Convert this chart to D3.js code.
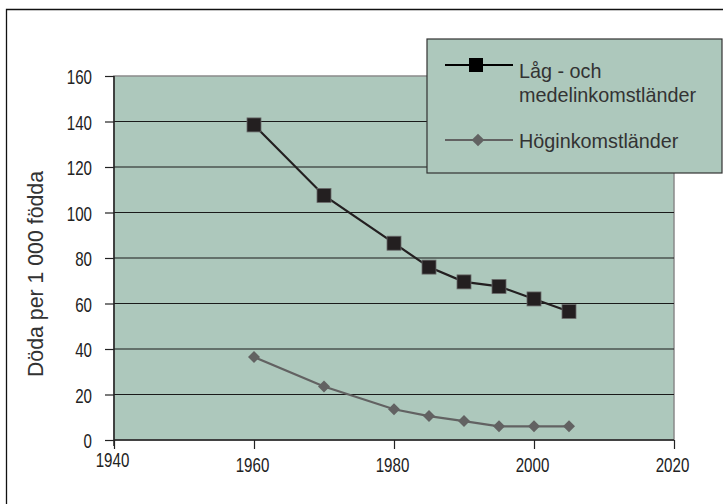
<!DOCTYPE html>
<html><head><meta charset="utf-8">
<script src="https://cdn.jsdelivr.net/npm/d3@7"></script>
<style>body{margin:0;background:#fff}</style>
</head><body>
<svg id="c" width="723" height="504"></svg>
<script>
const years = [1960, 1970, 1980, 1985, 1990, 1995, 2000, 2005];
const lowMid = [138.5, 107.5, 86.5, 76, 69.5, 67.5, 62, 56.5];
const high = [36.5, 23.5, 13.5, 10.5, 8.3, 6, 6, 6];
const seriesNames = ["Låg - och|medelinkomstländer", "Höginkomstländer"];
const xTicks = [1940, 1960, 1980, 2000, 2020];
const yTicks = [0, 20, 40, 60, 80, 100, 120, 140, 160];
const yLabel = "Döda per 1 000 födda";

const svg = d3.select("#c");
const bg = "#adc8bc";
const L = 114, R = 674, T = 76, B = 440;
const x = d3.scaleLinear().domain([1940, 2020]).range([L, R]);
const y = d3.scaleLinear().domain([0, 160]).range([B, T]);
const sans = "'Liberation Sans', Arial, sans-serif";
const SX = 0.72;

// outer frame (top and left edges visible)
svg.append("path").attr("d", "M6.5,504V9.5H723").attr("fill", "none")
  .attr("stroke", "#111").attr("stroke-width", 1.3);

// plot area
svg.append("rect").attr("x", L).attr("y", T).attr("width", R - L).attr("height", B - T)
  .attr("fill", bg).attr("stroke", "#8a8a8a").attr("stroke-width", 1.5);

// grid lines
svg.append("g").selectAll("line").data(yTicks.filter(d => d > 0 && d < 160)).join("line")
  .attr("x1", L).attr("x2", R).attr("y1", d => y(d)).attr("y2", d => y(d))
  .attr("stroke", "#1a1a1a").attr("stroke-width", 1.2);

// axes
const yAxis = d3.axisLeft(y).tickValues(yTicks).tickSize(9).tickPadding(13).tickFormat(d3.format("d"));
const gy = svg.append("g").attr("transform", `translate(${L},0)`).call(yAxis);
const xAxis = d3.axisBottom(x).tickValues(xTicks).tickSize(9).tickPadding(14).tickFormat(d3.format("d"));
const gx = svg.append("g").attr("transform", `translate(0,${B})`).call(xAxis);
[gx, gy].forEach(g => {
  g.select(".domain").attr("stroke", "#222").attr("stroke-width", 1.5);
  g.selectAll(".tick line").attr("stroke", "#222").attr("stroke-width", 1.2);
  g.selectAll(".tick text").attr("font-family", sans).attr("font-size", 21).attr("fill", "#222");
});
gx.select(".domain").attr("d", `M${L},0H${R}`);
gy.select(".domain").attr("d", `M0,${T}V${B + 6}`);
gy.selectAll(".tick text").attr("x", -22 / SX).attr("transform", `scale(${SX},1)`).attr("dy", "0.36em");
gx.selectAll(".tick text")
  .attr("x", -2 / SX)
  .attr("y", (d, i) => i === 0 ? 12 : 17)
  .attr("dy", "0.72em")
  .attr("transform", `scale(${SX},1)`);

// y label
svg.append("text").attr("transform", `translate(43,274) rotate(-90)`)
  .attr("text-anchor", "middle").attr("font-family", sans)
  .attr("font-size", 21.3).attr("fill", "#333").text(yLabel);

const line = d3.line().x(d => x(d[0])).y(d => y(d[1]));
const d1 = years.map((yr, i) => [yr, lowMid[i]]);
const d2 = years.map((yr, i) => [yr, high[i]]);

// high income series
svg.append("path").datum(d2).attr("d", line).attr("fill", "none")
  .attr("stroke", "#626262").attr("stroke-width", 2.2);
svg.append("g").selectAll("path").data(d2).join("path")
  .attr("d", d3.symbol().type(d3.symbolSquare).size(72))
  .attr("transform", d => `translate(${x(d[0])},${y(d[1])}) rotate(45)`)
  .attr("fill", "#626262");

// low/mid series
svg.append("path").datum(d1).attr("d", line).attr("fill", "none")
  .attr("stroke", "#231f20").attr("stroke-width", 2.2);
svg.append("g").selectAll("rect").data(d1).join("rect")
  .attr("x", d => x(d[0]) - 7).attr("y", d => y(d[1]) - 7).attr("width", 14).attr("height", 14)
  .attr("fill", "#231f20").attr("stroke", "#6a6a6a").attr("stroke-width", 0.8);

// legend
const lg = svg.append("g");
lg.append("rect").attr("x", 427).attr("y", 39).attr("width", 295).attr("height", 134)
  .attr("fill", bg).attr("stroke", "#333").attr("stroke-width", 1.2);
// entry 1
lg.append("line").attr("x1", 445).attr("x2", 513).attr("y1", 65).attr("y2", 65)
  .attr("stroke", "#000").attr("stroke-width", 2.2);
lg.append("rect").attr("x", 469).attr("y", 58).attr("width", 14).attr("height", 14).attr("fill", "#000");
const t1 = lg.append("text").attr("font-family", sans).attr("font-size", 19.8).attr("fill", "#333");
seriesNames[0].split("|").forEach((s, i) => {
  t1.append("tspan").attr("x", 519).attr("y", 78 + i * 24).text(s);
});
// entry 2
lg.append("line").attr("x1", 445).attr("x2", 513).attr("y1", 140).attr("y2", 140)
  .attr("stroke", "#626262").attr("stroke-width", 2.2);
lg.append("path").attr("d", d3.symbol().type(d3.symbolSquare).size(80))
  .attr("transform", "translate(478,140) rotate(45)").attr("fill", "#626262");
lg.append("text").attr("x", 519).attr("y", 148).attr("font-family", sans).attr("font-size", 19.8)
  .attr("fill", "#333").text(seriesNames[1]);
</script>
</body></html>
